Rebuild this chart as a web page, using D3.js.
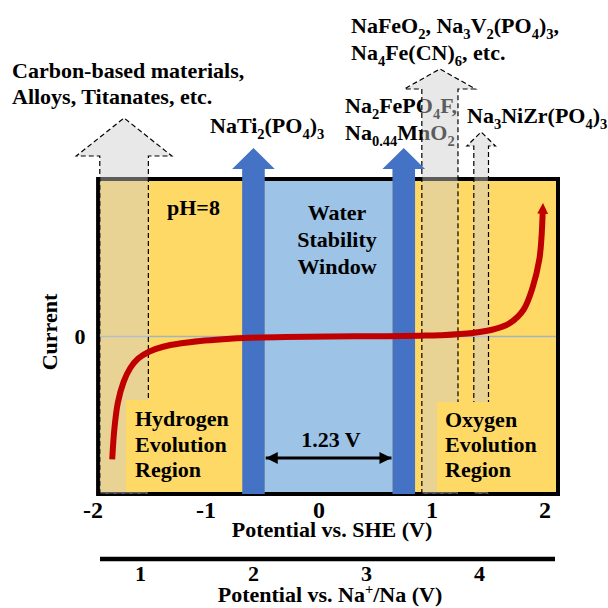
<!DOCTYPE html>
<html>
<head>
<meta charset="utf-8">
<script src="https://cdn.jsdelivr.net/npm/d3@7"></script>
<style>
  body { margin: 0; background: #fff; }
  text { font-family: "Liberation Serif", "Times New Roman", serif; font-weight: bold; fill: #000; }
</style>
</head>
<body>
<div class="chart"></div>
<script>
// axis ticks
var sheTicks = [-2, -1, 0, 1, 2];
var naTicks = [1, 2, 3, 4];
var naShift = 2.58;          // Na+/Na scale offset as drawn in the picture

// polarisation curve (potential vs SHE, relative current)
var curveV = [-1.83, -1.81, -1.78, -1.73, -1.67, -1.60, -1.50, -1.38, -1.22, -1.05, -0.85, -0.60, -0.30, 0.10, 0.60, 0.89, 1.07, 1.36, 1.56, 1.69, 1.81, 1.89, 1.95, 1.97, 1.98];
var curveI = [-0.78, -0.58, -0.42, -0.29, -0.20, -0.14, -0.095, -0.065, -0.043, -0.028, -0.017, -0.008, -0.003, 0.0, 0.002, 0.005, 0.008, 0.022, 0.048, 0.086, 0.17, 0.31, 0.49, 0.64, 0.80];

// regions (V vs SHE)
var plotRange = [-1.955, 2.115];
var waterWindow = [-0.48, 0.65];
var solidArrows = [[-0.68, -0.48], [0.65, 0.85]];
var dashedArrows = [[-1.94, -1.51], [0.91, 1.23], [1.37, 1.50]];

var svgWidth = 608, svgHeight = 608;

var svg = d3.select(".chart").append("svg")
  .attr("width", svgWidth)
  .attr("height", svgHeight);

var x = d3.scaleLinear().domain([-2, 2]).range([93, 545]);
var y = d3.scaleLinear().domain([-1, 1]).range([494, 179]);
var xNa = d3.scaleLinear().domain(x.domain().map(d => d + naShift)).range(x.range());

var boxL = x(plotRange[0]), boxR = x(plotRange[1]);
var boxT = y(1), boxB = y(-1);

// text with _{sub} / ^{sup}
function rich(sel, str, size) {
  var re = /([_^])\{([^}]*)\}|([^_^]+)/g, m, shift = 0;
  while ((m = re.exec(str))) {
    if (m[3]) {
      sel.append("tspan").attr("dy", -shift).text(m[3]);
      shift = 0;
    } else {
      var s = m[1] === "_" ? size * 0.28 : -size * 0.35;
      sel.append("tspan").attr("dy", s - shift).attr("font-size", size * 0.66).text(m[2]);
      shift = s;
    }
  }
}
function label(px, py, str, size, anchor) {
  var t = svg.append("text").attr("x", px).attr("y", py)
    .attr("font-size", size).attr("text-anchor", anchor || "start");
  rich(t, str, size);
  return t;
}

// background
svg.append("rect").attr("x", boxL).attr("y", boxT)
  .attr("width", boxR - boxL).attr("height", boxB - boxT).attr("fill", "#ffd966");
svg.append("rect").attr("x", x(waterWindow[0])).attr("y", boxT)
  .attr("width", x(waterWindow[1]) - x(waterWindow[0])).attr("height", boxB - boxT)
  .attr("fill", "#9dc3e6");

// zero line
svg.append("line").attr("x1", boxL).attr("x2", boxR).attr("y1", y(0)).attr("y2", y(0))
  .attr("stroke", "#9fb4c7").attr("stroke-width", 1.5);

// frame
svg.append("rect").attr("x", boxL).attr("y", boxT)
  .attr("width", boxR - boxL).attr("height", boxB - boxT)
  .attr("fill", "none").attr("stroke", "#000").attr("stroke-width", 4);

// material labels
label(12, 78, "Carbon-based materials,", 22);
label(12, 104, "Alloys, Titanates, etc.", 22);
label(210, 133, "NaTi_{2}(PO_{4})_{3}", 22);
label(351, 33, "NaFeO_{2}, Na_{3}V_{2}(PO_{4})_{3},", 22);
label(351, 60, "Na_{4}Fe(CN)_{6}, etc.", 22);
label(345, 113, "Na_{2}FePO_{4}F,", 22);
label(345, 140, "Na_{0.44}MnO_{2}", 22);
label(467, 123, "Na_{3}NiZr(PO_{4})_{3}", 22);

// arrows: shaft from bottom of frame to the head
function arrowPath(r, tipY, headH, over) {
  var l = x(r[0]), rr = x(r[1]), c = (l + rr) / 2;
  return "M" + l + "," + boxB + "L" + l + "," + (tipY + headH) + "L" + (l - over) + "," + (tipY + headH) +
    "L" + c + "," + tipY + "L" + (rr + over) + "," + (tipY + headH) + "L" + rr + "," + (tipY + headH) +
    "L" + rr + "," + boxB + "Z";
}
var dashedStyle = [[118, 38, 23.5], [69, 20, 17.5], [132, 14, 7]];
svg.selectAll(".dashArrow").data(dashedArrows).enter().append("path")
  .attr("class", "dashArrow")
  .attr("d", (d, i) => arrowPath(d, dashedStyle[i][0], dashedStyle[i][1], dashedStyle[i][2]))
  .attr("fill", "rgba(205,205,205,0.45)")
  .attr("stroke", "#000").attr("stroke-width", 1.2).attr("stroke-dasharray", "5,3");

svg.selectAll(".solidArrow").data(solidArrows).enter().append("path")
  .attr("class", "solidArrow")
  .attr("d", d => arrowPath(d, 148, 21, 10))
  .attr("fill", "#4472c4");

// region text boxes
svg.append("rect").attr("x", 126).attr("y", 400).attr("width", x(solidArrows[0][0]) - 126)
  .attr("height", boxB - 2 - 400).attr("fill", "#ffd966");
svg.append("rect").attr("x", 437).attr("y", 402).attr("width", boxR - 2 - 437)
  .attr("height", boxB - 2 - 402).attr("fill", "#ffd966");
["Hydrogen", "Evolution", "Region"].forEach((s, i) => label(135, 426 + i * 25.5, s, 22));
["Oxygen", "Evolution", "Region"].forEach((s, i) => label(445, 427 + i * 25, s, 22));

// curve
var pts = curveV.map((v, i) => [x(v), y(curveI[i])]);
svg.append("defs").append("marker").attr("id", "tip")
  .attr("viewBox", "0 0 10 10").attr("refX", 3).attr("refY", 5)
  .attr("markerWidth", 1.8).attr("markerHeight", 1.8).attr("orient", "auto")
  .append("path").attr("d", "M0,0L10,5L0,10Z").attr("fill", "#c00000");
svg.append("path")
  .attr("d", d3.line().curve(d3.curveCatmullRom.alpha(0.5))(pts))
  .attr("fill", "none").attr("stroke", "#c00000").attr("stroke-width", 6)
  .attr("marker-end", "url(#tip)");

// in-plot text
label(167, 215, "pH=8", 22);
["Water", "Stability", "Window"].forEach((s, i) => label(337, 220 + i * 27, s, 22, "middle"));

// 1.23 V double arrow
svg.append("defs").append("marker").attr("id", "ah")
  .attr("viewBox", "0 0 10 10").attr("refX", 10).attr("refY", 5)
  .attr("markerWidth", 4).attr("markerHeight", 4).attr("orient", "auto-start-reverse")
  .append("path").attr("d", "M0,0L10,5L0,10Z").attr("fill", "#000");
svg.append("line")
  .attr("x1", x(waterWindow[0]) + 1).attr("x2", x(waterWindow[1]) - 1)
  .attr("y1", 458).attr("y2", 458)
  .attr("stroke", "#000").attr("stroke-width", 3)
  .attr("marker-start", "url(#ah)").attr("marker-end", "url(#ah)");
label(331, 447, "1.23 V", 22, "middle");

// SHE axis
svg.append("g").selectAll("text").data(sheTicks).enter().append("text")
  .attr("x", d => x(d)).attr("y", 518)
  .attr("text-anchor", "middle").attr("font-size", 24)
  .text(d => d);
label(332, 537, "Potential vs. SHE (V)", 22, "middle");

// y axis
label(80, 344, "0", 22, "middle");
svg.append("text").attr("transform", "translate(57,332) rotate(-90)")
  .attr("text-anchor", "middle").attr("font-size", 22).text("Current");

// Na+/Na axis
svg.append("line").attr("x1", 100).attr("x2", 555).attr("y1", 559).attr("y2", 559)
  .attr("stroke", "#000").attr("stroke-width", 4.5);
svg.append("g").selectAll("text").data(naTicks).enter().append("text")
  .attr("x", d => xNa(d)).attr("y", 581)
  .attr("text-anchor", "middle").attr("font-size", 22)
  .text(d => d);
label(330, 602, "Potential vs. Na^{+}/Na (V)", 22, "middle");
</script>
</body>
</html>
